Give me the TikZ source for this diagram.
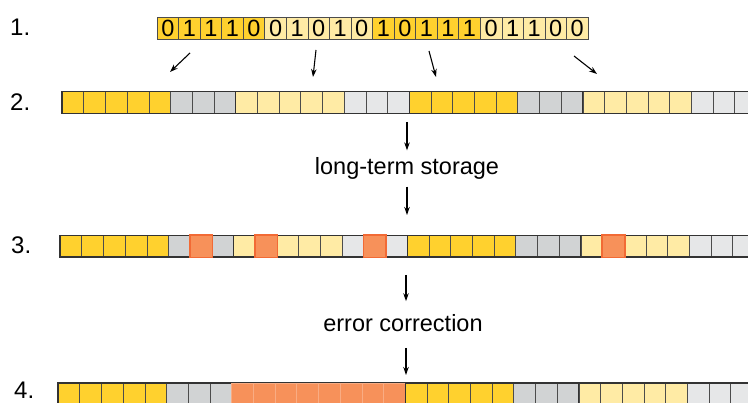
\documentclass[tikz,border=0pt]{standalone}
\usepackage{xcolor}
\usepackage{fontspec}
\setmainfont{Liberation Sans}
\usepackage{tikz}
\usetikzlibrary{arrows.meta}

\definecolor{bitdark}{HTML}{FFD12E}
\definecolor{bitlight}{HTML}{FFEBA5}
\definecolor{pardark}{HTML}{D1D3D4}
\definecolor{parlight}{HTML}{E6E7E8}
\definecolor{errfill}{HTML}{F7915A}
\definecolor{errline}{HTML}{F26A35}

% one coded row: name, left x, top y
\newcommand{\coderow}[3]{%
  \foreach \g/\dat/\chk in {0/bitdark/pardark, 1/bitlight/parlight, 2/bitdark/pardark, 3/bitlight/parlight}
    \foreach \k in {0,...,7} {
      \ifnum\k<5 \def\cfill{\dat}\else\def\cfill{\chk}\fi
      \draw[cell, fill=\cfill] ({#2+21.7*(8*\g+\k)}, #3) rectangle +(21.7, 21.7);
    }
  \foreach \g in {0,...,3}
    \draw[frame] ({#2+173.6*\g}, #3) rectangle +(173.6, 21.7);
  \coordinate (#1) at (#2, #3);
}

\begin{document}
\begin{tikzpicture}[x=1pt, y=-1pt]
  \tikzstyle{cell} = [draw=black!70, line width=0.6pt]
  \tikzstyle{frame} = [draw=black!80, line width=1.1pt]
  \tikzstyle{bit} = [cell, rectangle, minimum width=21.55pt, minimum height=22pt, inner sep=0pt, font=\fontsize{23.5}{23.5}\selectfont]
  \tikzstyle{rowlabel} = [anchor=west, inner sep=0pt, font=\fontsize{24}{24}\selectfont]
  \tikzstyle{caption} = [inner sep=0pt, font=\fontsize{23.5}{24}\selectfont]
  \tikzstyle{arrow} = [line width=1.1pt, -{Stealth[length=8pt, width=5.5pt]}]
  \tikzstyle{flipped} = [draw=errline, fill=errfill, line width=1.6pt]
  \tikzstyle{fixed} = [draw=errfill!75!white, fill=errfill, line width=0.5pt]

  \useasboundingbox (0,0) rectangle (748,403);
  \clip (0,0) rectangle (748,403);

  % 1. message
  \node[rowlabel] (l1) at (10,27) {1.};
  \foreach \g/\col/\bits in {0/bitdark/{0,1,1,1,0}, 1/bitlight/{0,1,0,1,0}, 2/bitdark/{1,0,1,1,1}, 3/bitlight/{0,1,1,0,0}}
    \foreach \d [count=\k from 0] in \bits
      \node[bit, fill=\col] (b\g\k) at ({167.8+21.55*(5*\g+\k)}, 28) {\d};

  % 2. encoded blocks
  \node[rowlabel] (l2) at (10,102) {2.};
  \coderow{row2}{62}{91.7}

  % 3. after storage, some cells flipped
  \node[rowlabel] (l3) at (11,245) {3.};
  \coderow{row3}{60}{235.3}
  \foreach \g/\k in {0/6, 1/1, 1/6, 3/1}
    \draw[flipped] ({60+21.7*(8*\g+\k)-0.5}, 234.8) rectangle +(22.7, 22.7);

  % 4. after correction
  \node[rowlabel] (l4) at (14,390) {4.};
  \coderow{row4}{58}{383}
  \foreach \k in {0,...,7}
    \draw[fixed] ({58+173.6+21.7*\k}, 383) rectangle +(21.7, 21.7);
  \draw[frame] (405.2,383) -- (405.2,404.7);

  % arrows from message to blocks
  \coordinate (s1) at (190,53);  \coordinate (e1) at (170,72);
  \coordinate (s2) at (316,50);  \coordinate (e2) at (313,77);
  \coordinate (s3) at (429,51);  \coordinate (e3) at (436,77);
  \coordinate (s4) at (574,56);  \coordinate (e4) at (597,74);
  \foreach \i in {1,...,4}
    \draw[arrow] (s\i) -- (e\i);

  % storage and correction
  \node[caption] (store) at (407,168.5) {long-term storage};
  \node[caption] (fix) at (403,323) {error correction};
  \coordinate (a2) at (407,122);
  \coordinate (a3) at (407,215);
  \coordinate (c3) at (406,275);
  \coordinate (c4) at (406,375);
  \draw[arrow, shorten >=7pt] (a2) -- (store.north -| a2);
  \draw[arrow, shorten <=7pt] (store.south -| a3) -- (a3);
  \draw[arrow, shorten >=13pt] (c3) -- (fix.north -| c3);
  \draw[arrow, shorten <=16pt] (fix.south -| c4) -- (c4);
\end{tikzpicture}
\end{document}
